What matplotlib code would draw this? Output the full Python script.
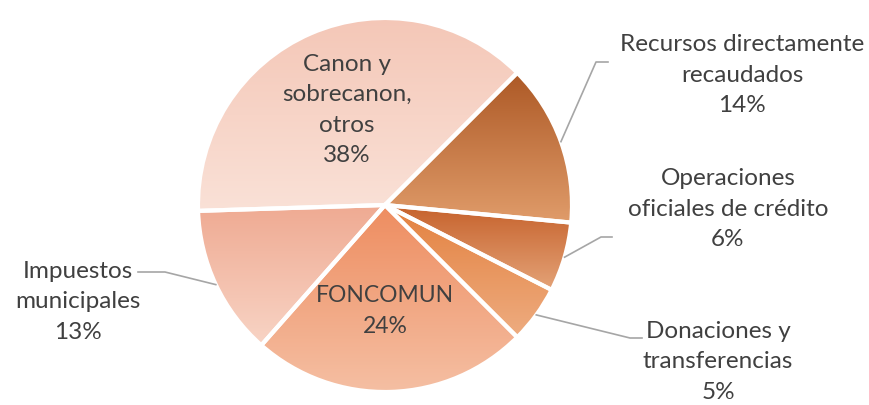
import numpy as np
import matplotlib.pyplot as plt
from matplotlib.colors import to_rgb
from matplotlib.patches import Wedge

plt.rcParams['font.family'] = ['Lato', 'DejaVu Sans']

# data, clockwise from the slice at 45 degrees
labels = ['Recursos directamente\nrecaudados', 'Operaciones\noficiales de crédito',
          'Donaciones y\ntransferencias', 'FONCOMUN', 'Impuestos\nmunicipales',
          'Canon y\nsobrecanon,\notros']
shares = [14, 6, 5, 24, 13, 38]

# gradient colours (top, bottom) per slice
top_colors = ['#AD5926', '#C6622C', '#E3813F', '#EE8D60', '#EFAA92', '#F4C7B7']
bottom_colors = ['#E09C6A', '#E4A378', '#EEAC80', '#F5BFA3', '#F8D4C5', '#FAE1D7']

W, H = 869, 405
cx, cy, R = 385, H - 205, 187
text_color = '#404040'

fig = plt.figure(figsize=(W / 100, H / 100), dpi=100)
ax = fig.add_axes([0, 0, 1, 1])

wedges, _ = ax.pie(shares, startangle=45, counterclock=False, center=(cx, cy), radius=R,
                   colors=top_colors, wedgeprops=dict(linewidth=0))

for w, c_top, c_bot in zip(wedges, top_colors, bottom_colors):
    bb = w.get_path().get_extents()
    t = np.linspace(0, 1, 200)[:, None]
    grad = (1 - t) * np.array(to_rgb(c_bot)) + t * np.array(to_rgb(c_top))
    im = ax.imshow(grad[:, None, :], extent=[bb.x0, bb.x1, bb.y0, bb.y1], origin='lower',
                   aspect='auto', interpolation='bilinear', zorder=2)
    im.set_clip_path(w)
    edge = Wedge(w.center, w.r, w.theta1, w.theta2, facecolor='none', edgecolor='white',
                 linewidth=3, zorder=3)
    ax.add_patch(edge)

# label layout (pixel positions from top-left)
label_pos = [(742, 75), (728, 209), (718, 362), (385, 311), (78, 302), (347, 110)]
leader = [[(596, 62), (608, 62)], [(601, 237), (612, 237)], [(630, 338), (642, 338)],
          None, [(165, 272), (138, 272)], None]

for w, lab, s, (px, py), ld in zip(wedges, labels, shares, label_pos, leader):
    size = 16.5 if lab == 'FONCOMUN' else 17.5
    ax.text(px, H - py, f'{lab}\n{s}%', ha='center', va='center', fontsize=size,
            color=text_color, linespacing=1.55, zorder=5)
    if ld is not None:
        mid = np.deg2rad((w.theta1 + w.theta2) / 2)
        xs = [cx + R * np.cos(mid)] + [p[0] for p in ld]
        ys = [cy + R * np.sin(mid)] + [H - p[1] for p in ld]
        ax.plot(xs, ys, color='#A6A6A6', linewidth=1.2, zorder=4)

ax.set_xlim(0, W)
ax.set_ylim(0, H)
ax.set_aspect('equal')
ax.axis('off')

fig.savefig('out.png', dpi=100)
